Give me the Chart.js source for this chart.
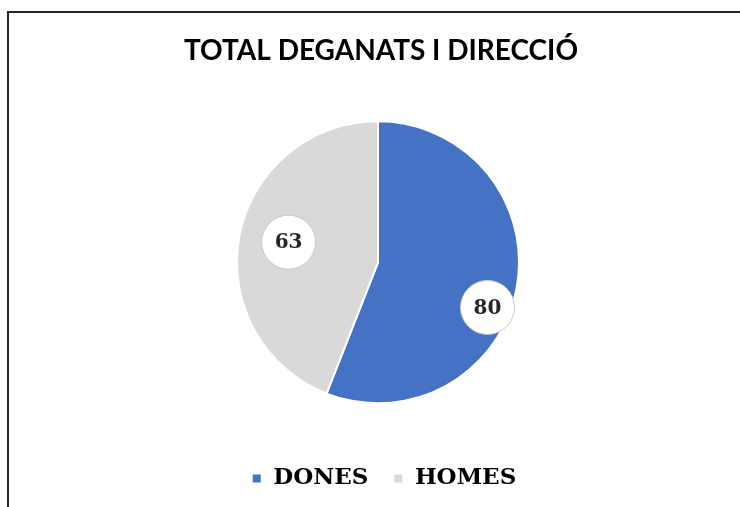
<!DOCTYPE html>
<html>
<head>
<meta charset="utf-8">
<script src="https://cdn.jsdelivr.net/npm/chart.js@4/dist/chart.umd.min.js"></script>
<style>
    html, body { margin: 0; padding: 0; background: #fff; }
    body { width: 740px; height: 507px; position: relative; overflow: hidden; }
    /* chart frame: only top and left edges are inside the picture */
    .frame {
        position: absolute; left: 7px; top: 11px; width: 900px; height: 700px;
        border-top: 2px solid #262626; border-left: 2px solid #262626;
    }
    .wrap { position: absolute; left: 0; top: 0; width: 740px; height: 507px; }
</style>
</head>
<body>
<div class="frame"></div>
<div class="wrap"><canvas id="pieChart" width="740" height="507"></canvas></div>
<script>
// Data
const categories = ['DONES', 'HOMES'];
const values = [80, 63];
const sliceColors = ['#4472C4', '#D9D9D9'];

// label placement along each slice (fraction of radius, angle shift in degrees)
const labelFraction = [0.84, 0.65];
const labelShift = [11.7, 2];

// white bubble data labels
const bubbleLabels = {
    id: 'bubbleLabels',
    afterDatasetsDraw(chart) {
        const ctx = chart.ctx;
        const meta = chart.getDatasetMeta(0);
        meta.data.forEach((arc, i) => {
            const p = arc.getProps(['x', 'y', 'startAngle', 'endAngle', 'outerRadius'], true);
            const mid = (p.startAngle + p.endAngle) / 2 + labelShift[i] * Math.PI / 180;
            const r = p.outerRadius * labelFraction[i];
            const x = p.x + Math.cos(mid) * r;
            const y = p.y + Math.sin(mid) * r;
            ctx.save();
            ctx.beginPath();
            ctx.arc(x, y, 27, 0, Math.PI * 2);
            ctx.fillStyle = '#ffffff';
            ctx.fill();
            ctx.lineWidth = 1;
            ctx.strokeStyle = '#c8c8c8';
            ctx.stroke();
            ctx.fillStyle = '#262626';
            ctx.font = 'bold 20px "DejaVu Serif"';
            ctx.textAlign = 'center';
            ctx.textBaseline = 'middle';
            ctx.fillText(String(chart.data.datasets[0].data[i]), x, y + 1);
            ctx.restore();
        });
    }
};

// nudge title and legend a little to the right, like the original
const blockNudge = {
    id: 'blockNudge',
    afterLayout(chart) {
        const lg = chart.legend;
        if (lg) { lg.left += 6; lg.right += 6; }
        const tb = chart.titleBlock;
        if (tb) { tb.left += 3; tb.right += 3; }
    }
};

const ctx = document.getElementById('pieChart').getContext('2d');
new Chart(ctx, {
    type: 'pie',
    data: {
        labels: categories,
        datasets: [{
            data: values,
            backgroundColor: sliceColors,
            borderColor: '#ffffff',
            borderWidth: 2,
            radius: 141
        }]
    },
    options: {
        responsive: false,
        animation: false,
        layout: { padding: { left: 16, right: 0, top: 22, bottom: 7 } },
        plugins: {
            title: {
                display: true,
                text: 'TOTAL DEGANATS I DIRECCIÓ',
                color: '#000000',
                font: { family: 'Lato', size: 28, weight: 'bold' },
                padding: { top: 12, bottom: 15 }
            },
            legend: {
                position: 'bottom',
                labels: {
                    usePointStyle: true,
                    pointStyle: 'rect',
                    boxWidth: 10,
                    boxHeight: 10,
                    padding: 25,
                    color: '#000000',
                    font: { family: 'DejaVu Serif', size: 23, weight: 'bold' }
                }
            },
            tooltip: { enabled: false }
        }
    },
    plugins: [bubbleLabels, blockNudge]
});
</script>
</body>
</html>
